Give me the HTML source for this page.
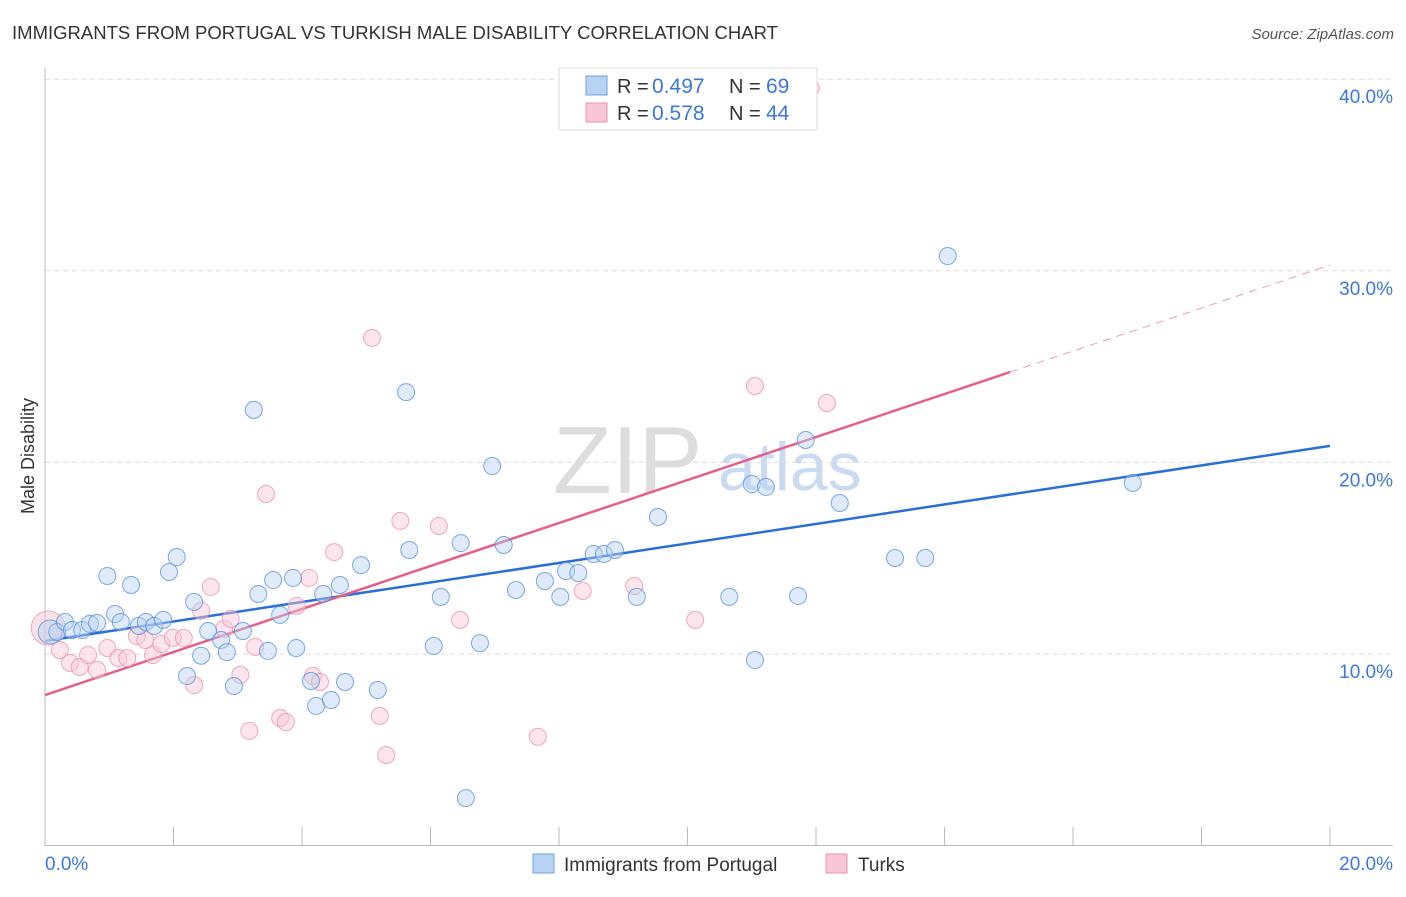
<!DOCTYPE html>
<html><head><meta charset="utf-8"><style>
body{margin:0;background:#fff;font-family:"Liberation Sans",sans-serif}
svg text{font-family:"Liberation Sans",sans-serif}
</style></head><body>
<svg id="chart" width="1406" height="892" xmlns="http://www.w3.org/2000/svg">
<text x="12" y="39" font-size="18" fill="#333" textLength="766" lengthAdjust="spacingAndGlyphs">IMMIGRANTS FROM PORTUGAL VS TURKISH MALE DISABILITY CORRELATION CHART</text>
<text x="1394" y="39" font-size="15" fill="#555" font-style="italic" text-anchor="end">Source: ZipAtlas.com</text>
<text x="34" y="456" font-size="18" fill="#333" text-anchor="middle" transform="rotate(-90 34 456)">Male Disability</text>
<g>
<text x="553" y="493" font-size="96" font-family="Liberation Serif,serif" fill="#ddd">ZIP</text>
<text x="718" y="490" font-size="68" fill="#c9daf2">atlas</text>
</g>
<g id="grid"></g><g id="axes"></g><g id="trend"></g><g id="pts"></g>
<g>
<rect x="559" y="68" width="258" height="62" fill="#fff" stroke="#ddd"/>
<rect x="586" y="76" width="21" height="19" fill="#b8d2f4" stroke="#6fa0e0"/>
<rect x="586" y="103" width="21" height="19" fill="#f9c6d6" stroke="#ec94b0"/>
<text x="617" y="93" font-size="20" fill="#333">R =</text>
<text x="652" y="93" font-size="21" fill="#3b78d8">0.497</text>
<text x="729" y="93" font-size="20" fill="#333">N =</text>
<text x="766" y="93" font-size="21" fill="#3b78d8">69</text>
<text x="617" y="120" font-size="20" fill="#333">R =</text>
<text x="652" y="120" font-size="21" fill="#3b78d8">0.578</text>
<text x="729" y="120" font-size="20" fill="#333">N =</text>
<text x="766" y="120" font-size="21" fill="#3b78d8">44</text>
</g>
<g>
<rect x="533" y="854" width="21" height="19" fill="#b8d2f4" stroke="#6fa0e0"/>
<text x="564" y="871" font-size="19" fill="#333">Immigrants from Portugal</text>
<rect x="826" y="854" width="21" height="19" fill="#f9c6d6" stroke="#ec94b0"/>
<text x="858" y="871" font-size="19" fill="#333">Turks</text>
</g>
</svg>
<script>
const blueX=[0.08,0.19,0.31,0.42,0.58,0.70,0.81,0.97,1.09,1.18,1.34,1.46,1.57,1.70,1.84,1.93,2.05,2.21,2.32,2.43,2.54,2.74,2.83,2.94,3.08,3.25,3.32,3.47,3.55,3.66,3.86,3.91,4.14,4.22,4.33,4.45,4.59,4.67,4.92,5.18,5.62,5.67,6.05,6.16,6.47,6.55,6.77,6.96,7.14,7.33,7.78,8.02,8.11,8.30,8.54,8.70,8.87,9.21,9.54,10.65,11.0,11.05,11.22,11.72,11.84,12.37,13.23,13.70,14.05,16.93];
const blueY=[11.15,11.15,11.67,11.25,11.25,11.57,11.62,14.07,12.09,11.67,13.6,11.46,11.67,11.46,11.78,14.28,15.06,8.85,12.72,9.91,11.2,10.73,10.1,8.33,11.2,22.74,13.13,10.16,13.86,12.04,13.97,10.31,8.59,7.29,13.13,7.6,13.6,8.54,14.64,8.12,23.67,15.43,10.42,12.98,15.79,2.48,10.57,19.81,15.69,13.34,13.81,12.98,14.33,14.23,15.22,15.22,15.43,12.98,17.15,12.98,18.87,9.69,18.72,13.03,21.17,17.88,15.01,15.01,30.77,18.93];
const pinkX=[0.05,0.23,0.39,0.54,0.67,0.81,0.97,1.14,1.28,1.43,1.56,1.68,1.81,1.99,2.16,2.32,2.43,2.58,2.79,2.89,3.04,3.18,3.27,3.44,3.66,3.75,3.92,4.11,4.17,4.28,4.50,5.09,5.21,5.31,5.53,6.13,6.46,7.67,8.37,9.17,10.12,11.05,12.17,11.92];
const pinkY=[11.36,10.21,9.53,9.32,9.95,9.17,10.31,9.79,9.79,10.94,10.73,9.95,10.52,10.84,10.84,8.38,12.25,13.5,11.31,11.83,8.91,5.99,10.37,18.35,6.66,6.45,12.51,13.97,8.85,8.54,15.32,26.5,6.77,4.73,16.95,16.68,11.78,5.68,13.29,13.55,11.78,23.99,23.1,39.54];
const yTicks=[10,20,30,40];
const xTickLabels=["0.0%","20.0%"];
const blueTrend=[10.68,20.86];
const pinkTrend=[7.86,30.3];
const pinkSolidEnd=15.02;
const NS="http://www.w3.org/2000/svg";
const X=v=>45+v*64.25, Y=v=>845.6-v*19.16;
function mk(t,a,p){const e=document.createElementNS(NS,t);for(const k in a)e.setAttribute(k,a[k]);p.appendChild(e);return e;}
const grid=document.getElementById('grid'),axes=document.getElementById('axes'),trend=document.getElementById('trend'),pts=document.getElementById('pts');
yTicks.forEach(t=>{
 const l=mk('line',{x1:45,x2:1393,y1:Y(t),y2:Y(t),stroke:'#ddd','stroke-dasharray':'5,4'},grid);
 
 
 const tx=mk('text',{x:1393,y:Y(t)+24,'font-size':19,fill:'#3b78d8','text-anchor':'end'},grid);
 tx.textContent=t.toFixed(1)+'%';
 
 
});
let a=mk('line',{x1:45,x2:45,y1:68,y2:846,stroke:'#bbb'},axes);


a=mk('line',{x1:45,x2:1393,y1:845.5,y2:845.5,stroke:'#bbb'},axes);


for(let i=0;i<=10;i++){const t=mk('line',{x1:X(i*2),x2:X(i*2),y1:827,y2:846,stroke:'#bbb'},axes);
 
 }
[[0,'start',45],[20,'end',1393]].forEach((d,i)=>{const t=mk('text',{x:d[2],y:870,'font-size':19,fill:'#3b78d8','text-anchor':d[1]},axes);t.textContent=xTickLabels[i];
 
 });
const pinkAt=v=>pinkTrend[0]+(pinkTrend[1]-pinkTrend[0])*v/20;
function addPts(xs,ys,fill,stroke,name){xs.forEach((x,i)=>{const r=(i===0)?(name==='turks'?17:12):8.5;
 const c=mk('circle',{cx:X(x),cy:Y(ys[i]),r:r,fill:fill,'fill-opacity':i===0?0.5:0.45,stroke:stroke,'stroke-opacity':0.8,'stroke-width':1},pts);
 
 });}
addPts(pinkX,pinkY,'#f9c6d6','#ec94b0','turks');
addPts(blueX,blueY,'#b8d2f4','#5b93dc','portugal');
let t=mk('line',{x1:X(0),y1:Y(blueTrend[0]),x2:X(20),y2:Y(blueTrend[1]),stroke:'#2a6fd6','stroke-width':2.5},trend);


t=mk('line',{x1:X(0),y1:Y(pinkAt(0)),x2:X(pinkSolidEnd),y2:Y(pinkAt(pinkSolidEnd)),stroke:'#e4608a','stroke-width':2.5},trend);


t=mk('line',{x1:X(pinkSolidEnd),y1:Y(pinkAt(pinkSolidEnd)),x2:X(20),y2:Y(pinkAt(20)),stroke:'#e4a0b6','stroke-width':1,'stroke-dasharray':'8,6'},trend);


</script>
</body></html>
